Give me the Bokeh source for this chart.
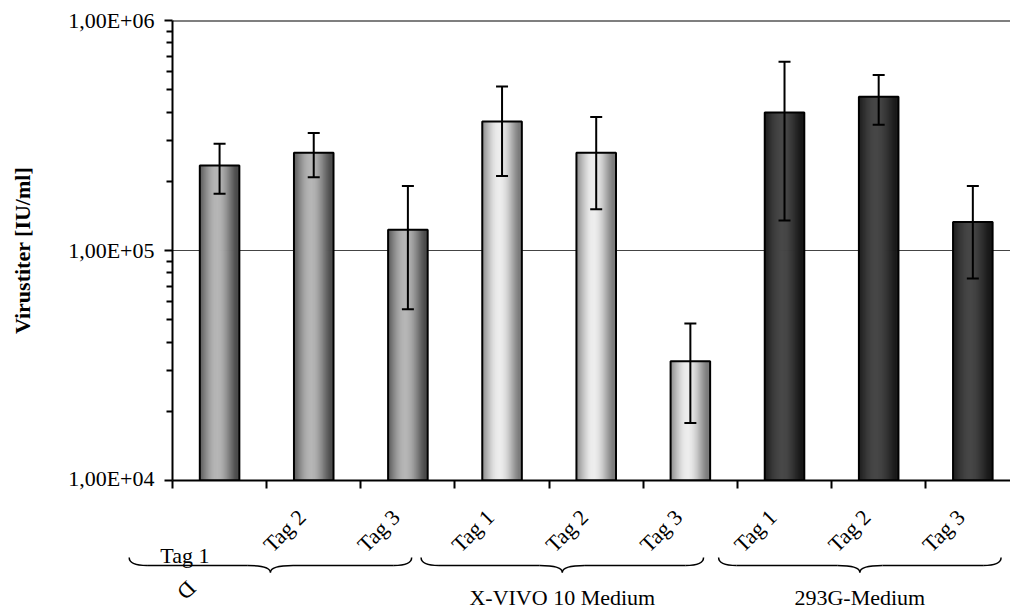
import numpy as np
from bokeh.plotting import figure
from bokeh.models import ColumnDataSource, Range1d, FixedTicker, Whisker, TeeHead, Span
from bokeh.core.properties import value
from bokeh.embed import file_html
from bokeh.resources import INLINE

# ---------------- data ----------------
groups = ["D", "X-VIVO 10 Medium", "293G-Medium"]
days = ["Tag 1", "Tag 2", "Tag 3"]
titer_mean = [2.34e5, 2.66e5, 1.23e5, 3.64e5, 2.66e5, 3.30e4, 3.98e5, 4.66e5, 1.33e5]
titer_sd = [0.575e5, 0.58e5, 0.675e5, 1.53e5, 1.15e5, 1.52e4, 2.63e5, 1.14e5, 0.575e5]
y_ticks = [1e4, 1e5, 1e6]
y_tick_labels = ["1,00E+04", "1,00E+05", "1,00E+06"]
y_label = "Virustiter [IU/ml]"

# ---------------- layout / style ----------------
FONT = "Liberation Serif"
FS = "22px"
W, H_MAIN, H_BOT = 1010, 490, 120
LEFT, TOP = 172, 20
x_end = 8.9
bar_w = 0.42
shades = [("#4c4c4c", "#b6b6b6"), ("#7c7c7c", "#ededed"), ("#181818", "#474747")]

n = len(titer_mean)
per = len(days)
centers = np.arange(n) + 0.5
mean = np.array(titer_mean)
sd = np.array(titer_sd)


def mix(c1, c2, t):
    a = [int(c1[i:i + 2], 16) for i in (1, 3, 5)]
    b = [int(c2[i:i + 2], 16) for i in (1, 3, 5)]
    return "#%02x%02x%02x" % tuple(int(round(a[k] + (b[k] - a[k]) * t)) for k in range(3))


# gradient strips for the cylinder-like bars
NS = 40
sw = bar_w / NS
sx, stop, scol = [], [], []
for i in range(n):
    e, c = shades[i // per]
    for k in range(NS):
        u = -1 + (2 * k + 1) / NS
        t = np.cos(np.clip(u + 0.12, -1, 1) * np.pi / 2) ** 1.3
        sx.append(centers[i] - bar_w / 2 + (k + 0.5) * sw)
        stop.append(mean[i])
        scol.append(mix(e, c, t))
strip_src = ColumnDataSource(dict(x=sx, top=stop, color=scol))

p = figure(width=W, height=H_MAIN, x_range=Range1d(0, x_end),
           y_range=Range1d(y_ticks[0], y_ticks[-1]), y_axis_type="log",
           output_backend="svg", toolbar_location=None, title=None,
           min_border_left=LEFT, min_border_right=0, min_border_top=TOP,
           min_border_bottom=10)
p.outline_line_color = None
p.background_fill_color = "white"
p.xgrid.visible = False
p.ygrid.ticker = FixedTicker(ticks=y_ticks)
p.ygrid.grid_line_color = "#444444"
p.ygrid.grid_line_width = 1

p.vbar(x="x", top="top", bottom=y_ticks[0], width=sw * 1.8, fill_color="color",
       line_color=None, source=strip_src)
p.vbar(x=centers, top=mean, bottom=y_ticks[0], width=bar_w, fill_color=None,
       line_color="black", line_width=2)

err_src = ColumnDataSource(dict(base=centers, upper=mean + sd, lower=mean - sd))
wh = Whisker(base="base", upper="upper", lower="lower", source=err_src,
             line_color="black", line_width=2, level="annotation",
             upper_head=TeeHead(size=12, line_width=2, line_color="black"),
             lower_head=TeeHead(size=12, line_width=2, line_color="black"))
p.add_layout(wh)
p.add_layout(Span(location=y_ticks[-1], dimension="width", line_color="black", line_width=2))

yax = p.yaxis[0]
minor = [m * d for d in y_ticks[:-1] for m in range(2, 10)]
yax.ticker = FixedTicker(ticks=y_ticks, minor_ticks=minor)
yax.major_label_overrides = dict(zip(y_ticks, y_tick_labels))
yax.major_label_text_font = FONT
yax.major_label_text_font_size = FS
yax.major_label_text_color = "black"
yax.major_label_standoff = 10
yax.axis_line_width = 2
yax.axis_line_color = "black"
yax.major_tick_line_width = 2
yax.minor_tick_line_width = 2
yax.major_tick_line_color = "black"
yax.minor_tick_line_color = "black"
yax.major_tick_in = 0
yax.major_tick_out = 8
yax.minor_tick_in = 0
yax.minor_tick_out = 6
yax.axis_label = y_label
yax.axis_label_text_font = FONT
yax.axis_label_text_font_size = FS
yax.axis_label_text_font_style = "bold"
yax.axis_label_text_color = "black"
yax.axis_label_standoff = 30

xax = p.xaxis[0]
xax.ticker = FixedTicker(ticks=list(range(n + 1)))
xax.major_label_overrides = {k: "" for k in range(n + 1)}
xax.major_label_standoff = 0
xax.axis_line_width = 2
xax.axis_line_color = "black"
xax.major_tick_line_width = 2
xax.major_tick_line_color = "black"
xax.major_tick_in = 0
xax.major_tick_out = 8

# ---------------- lower panel: category labels and braces ----------------
ppu = (W - LEFT) / x_end
p2 = figure(width=W, height=H_BOT, x_range=Range1d(-LEFT / ppu, x_end),
            y_range=Range1d(H_MAIN + H_BOT, H_MAIN), output_backend="svg",
            toolbar_location=None, title=None, x_axis_location=None,
            y_axis_location=None, min_border=0)
p2.outline_line_color = None
p2.grid.visible = False

rot = list(range(1, n))
p2.text(x=[centers[i] - 0.22 for i in rot], y=[504] * len(rot),
        text=[days[i % per] for i in rot], angle=np.pi / 4, text_align="right",
        text_baseline="top", text_font=value(FONT), text_font_size=FS, text_color="black")
p2.text(x=[centers[0] - 0.63], y=[555], text=[days[0]], text_align="left",
        text_baseline="middle", text_font=value(FONT), text_font_size=FS,
        text_color="black")

shift = [-0.46, -0.36, -0.20]
de, dm = 0.19, 0.24
y_end_, y_mid, y_tip = 557, 565, 572
qx0, qy0, qx1, qy1, qcx, qcy = [], [], [], [], [], []
segx0, segx1 = [], []
gcent = []
for j in range(len(groups)):
    xl = j * per + shift[j]
    xr = (j + 1) * per + shift[j]
    xc = (xl + xr) / 2
    gcent.append(xc)
    for (a, b, c) in [((xl, y_end_), (xl + de, y_mid), (xl, y_mid)),
                      ((xc - dm, y_mid), (xc, y_tip), (xc, y_mid)),
                      ((xc + dm, y_mid), (xc, y_tip), (xc, y_mid)),
                      ((xr, y_end_), (xr - de, y_mid), (xr, y_mid))]:
        qx0.append(a[0]); qy0.append(a[1]); qx1.append(b[0]); qy1.append(b[1])
        qcx.append(c[0]); qcy.append(c[1])
    segx0 += [xl + de, xc + dm]
    segx1 += [xc - dm, xr - de]
p2.quadratic(x0=qx0, y0=qy0, x1=qx1, y1=qy1, cx=qcx, cy=qcy, line_color="black", line_width=1.5)
p2.segment(x0=segx0, y0=[y_mid] * len(segx0), x1=segx1, y1=[y_mid] * len(segx1),
           line_color="black", line_width=1.5)

p2.text(x=gcent[1:], y=[597] * (len(groups) - 1), text=groups[1:], text_align="center",
        text_baseline="middle", text_font=value(FONT), text_font_size=FS, text_color="black")
p2.text(x=[0.15], y=[590], text=[groups[0]], angle=-3 * np.pi / 4, text_align="center",
        text_baseline="middle", text_font=value(FONT), text_font_size=FS, text_color="black")

open("out.html", "w").write(file_html([p, p2], INLINE))
